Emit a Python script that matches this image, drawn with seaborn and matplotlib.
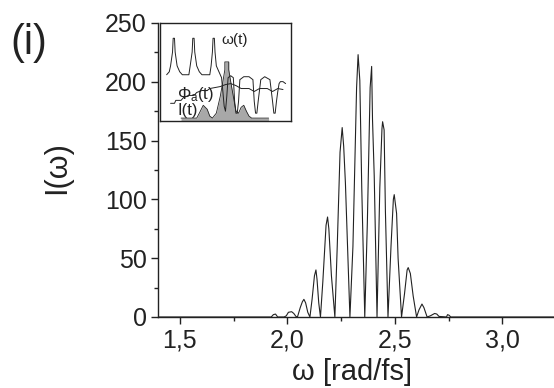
import numpy as np
import pandas as pd
import matplotlib
matplotlib.use("Agg")
import matplotlib.pyplot as plt
from matplotlib.ticker import MultipleLocator, FuncFormatter
import seaborn as sns

# Spectrum I(omega)
omega = [1.40, 1.925, 1.935, 1.945, 1.955, 1.985,
         1.995, 2.005, 2.020, 2.030, 2.040,
         2.047, 2.060, 2.070, 2.077, 2.085, 2.095,
         2.105, 2.115, 2.126, 2.133, 2.138, 2.146,
         2.154, 2.165, 2.180, 2.187, 2.193, 2.205,
         2.221, 2.232, 2.245, 2.255, 2.262, 2.270,
         2.291, 2.305, 2.322, 2.329, 2.337, 2.346,
         2.360, 2.372, 2.385, 2.392, 2.396, 2.404,
         2.417, 2.430, 2.440, 2.443, 2.450, 2.456,
         2.468, 2.482, 2.493, 2.497, 2.508, 2.515,
         2.531, 2.545, 2.557, 2.562, 2.572, 2.585,
         2.601, 2.612, 2.626, 2.635,
         2.650, 2.665, 2.685, 2.695, 2.705, 2.740, 2.745, 2.752, 2.760, 3.24]
intensity = [0, 0, 2, 2.5, 0, 0,
             1, 4, 4.5, 3, 0.5,
             0, 8, 13, 15, 12, 4,
             0, 15, 35, 40, 32, 12,
             0, 30, 78, 85, 75, 35,
             0, 60, 140, 161, 145, 114,
             0, 60, 195, 223, 201, 110,
             0, 80, 195, 213, 168, 120,
             0, 110, 160, 166, 159, 90,
             0, 60, 100, 104, 88, 50,
             0, 20, 40, 42, 37, 18,
             0, 6, 11, 8,
             0, 1, 3, 2.5, 0.5, 0, 2, 1.5, 0, 0]

# Inset curves (arbitrary units, 0..100)
t_w = [5, 7, 8, 9.5, 10, 11, 11.5, 13, 15, 17, 22, 23, 24.5, 25, 26, 26.5, 28, 30, 32,
       38, 39, 40, 40.5, 41.5, 42, 43, 45, 47, 48, 49, 50, 51, 52, 54, 56, 57,
       58, 59, 60, 61, 64, 68, 71, 72, 73, 74, 75, 77, 80, 84, 86, 87, 88, 89,
       90, 91, 92, 94, 96]
w_t = [47, 50, 56, 70, 84, 84, 70, 56, 50, 47, 47, 56, 70, 84, 84, 70, 56, 50, 47,
       47, 56, 70, 84, 84, 70, 56, 50, 44, 30, 15, 10, 25, 44, 46, 44, 20,
       8, 8, 20, 42, 45, 45, 42, 20, 8, 8, 20, 42, 45, 42, 20, 8, 8, 20,
       30, 38, 40, 40, 38]
t_phi = [8, 11, 12, 16, 18, 22, 26, 28, 32, 36, 38, 42, 46, 50, 54, 58, 62,
         68, 72, 76, 82, 86, 90, 94]
phi_t = [18, 18, 21, 21, 24, 26, 26, 29, 31, 31, 33, 34, 35, 37, 38, 36, 33,
         33, 30, 33, 33, 30, 33, 32]
t_i = [16, 28, 30, 33, 36, 38, 40, 43, 46, 48, 49.5, 49.5, 52.5, 52.5, 54, 56,
       58, 60, 62, 64, 66, 68, 70, 83]
i_t = [3, 3, 8, 16, 12, 5, 3, 8, 25, 40, 52, 60, 60, 52, 40, 25,
       10, 8, 14, 16, 10, 5, 3, 3]

sns.set_theme(style="ticks")
plt.rcParams['font.family'] = ['Liberation Sans', 'DejaVu Sans']
plt.rcParams['mathtext.fontset'] = 'custom'
plt.rcParams['mathtext.rm'] = 'Liberation Sans'
plt.rcParams['mathtext.it'] = 'Liberation Sans'

fig = plt.figure(figsize=(5.54, 3.88), dpi=100)
ax = fig.add_axes([0.285, 0.183, 0.715, 0.758])

df = pd.DataFrame({'omega': omega, 'I': intensity})
sns.lineplot(data=df, x='omega', y='I', ax=ax, color='#222222', lw=0.8,
             estimator=None, sort=False)

ax.set_xlim(1.398, 3.24)
ax.set_ylim(0, 250)
ax.xaxis.set_major_locator(MultipleLocator(0.5))
ax.xaxis.set_minor_locator(MultipleLocator(0.25))
ax.yaxis.set_major_locator(MultipleLocator(50))
ax.yaxis.set_minor_locator(MultipleLocator(25))
ax.xaxis.set_major_formatter(FuncFormatter(lambda v, p: f"{v:.1f}".replace('.', ',')))
ax.tick_params(which='major', direction='out', length=5, width=1, labelsize=18,
               color='#222222', labelcolor='#222222', pad=3)
ax.tick_params(which='minor', direction='out', length=3, width=1, color='#222222')
ax.set_xlabel('')
ax.set_ylabel('')
sns.despine(ax=ax)
for s in ['left', 'bottom']:
    ax.spines[s].set_color('#222222')
    ax.spines[s].set_linewidth(1.0)

fig.text(0.635, 0.042, 'ω [rad/fs]', ha='center', va='center', fontsize=21, color='#222222')
fig.text(0.103, 0.567, 'I(ω)', ha='center', va='center', fontsize=22,
         rotation=90, color='#222222')
fig.text(0.052, 0.89, '(i)', ha='center', va='center', fontsize=30, color='#222222')

# Inset
ins = fig.add_axes([0.289, 0.688, 0.236, 0.254])
ins.set_xlim(0, 100)
ins.set_ylim(0, 100)
ins.fill_between(t_i, i_t, 0, color='#a8a8a8', lw=0)
ins.plot(t_i, i_t, color='#222222', lw=0.6)
sns.lineplot(x=t_w, y=w_t, ax=ins, color='#222222', lw=0.7, estimator=None, sort=False)
sns.lineplot(x=t_phi, y=phi_t, ax=ins, color='#222222', lw=0.7, estimator=None, sort=False)
ins.set_xticks([])
ins.set_yticks([])
for s in ins.spines.values():
    s.set_color('#222222')
    s.set_linewidth(1.0)
ins.text(47, 82, 'ω(t)', fontsize=11, color='#222222', va='center')
ins.text(13, 27, r'$\mathrm{\Phi_a}$(t)', fontsize=12, color='#222222', va='center')
ins.text(13, 11, 'I(t)', fontsize=12, color='#222222', va='center')

fig.savefig('out.png', dpi=100)
